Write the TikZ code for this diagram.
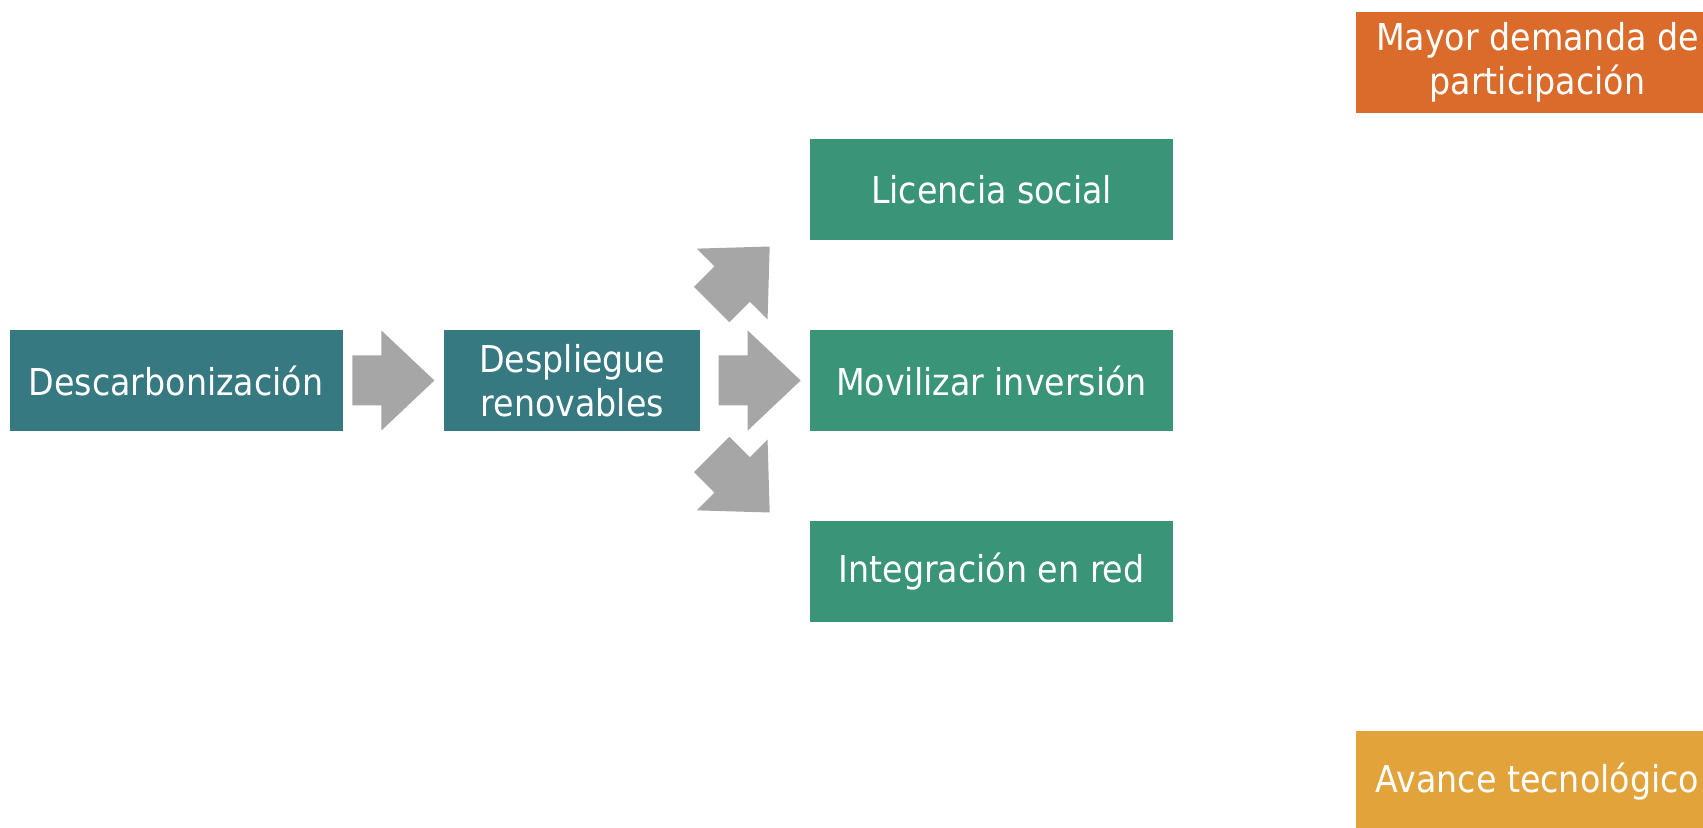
\documentclass[tikz,border=0pt]{standalone}
\usepackage{fontspec}
\setmainfont{DejaVu Sans Condensed}
\usetikzlibrary{positioning,calc}
\definecolor{tealbox}{HTML}{367980}
\definecolor{greenbox}{HTML}{3A9477}
\definecolor{orangebox}{HTML}{DA6B2B}
\definecolor{goldbox}{HTML}{E3A33B}
\definecolor{arrowgray}{HTML}{A6A6A6}
\tikzstyle{block} = [rectangle,inner sep=0,text=white,align=center,minimum height=50.5pt,font=\fontsize{18.5}{22}\selectfont]
\tikzstyle{driver} = [block,fill=tealbox]
\tikzstyle{challenge} = [block,fill=greenbox,minimum width=181.5pt]
\tikzstyle{context} = [block,minimum width=181.5pt]
\tikzset{bigarrow/.pic={\fill[arrowgray] (-41,-25) -- (-12,-25) -- (-12,-50) -- (41,0) -- (-12,50) -- (-12,25) -- (-41,25) -- cycle;}}
\def \gap {44.5pt}

\begin{document}
\begin{tikzpicture}[x=0.5pt,y=-0.5pt,node distance=\gap]
  \clip (0,0) rectangle (1703,828);
  \node[driver,minimum width=166.5pt] (desc) at (176,380.5) {Descarbonización};
  \node[driver,minimum width=128pt,right=50.5pt of desc] (desp) {Despliegue\\renovables};
  \node[challenge,right=54.5pt of desp] (mov) {Movilizar inversión};
  \node[challenge,above=of mov] (lic) {Licencia social};
  \node[challenge,below=of mov] (red) {Integración en red};
  \node[context,fill=orangebox] (dem) at (1537.5,62.5) {Mayor demanda de\\participación};
  \node[context,fill=goldbox] (tec) at (1537.5,781.5) {Avance tecnológico};
  % block arrows between the stages
  \pic at ($(desc.east)!0.5!(desp.west)$) {bigarrow};
  \pic at ($(desp.east)+(59,0)$) {bigarrow};
  \pic[rotate=45] at ($(desp.east)+(40,-105)$) {bigarrow};
  \pic[rotate=-45] at ($(desp.east)+(40,103)$) {bigarrow};
\end{tikzpicture}
\end{document}
